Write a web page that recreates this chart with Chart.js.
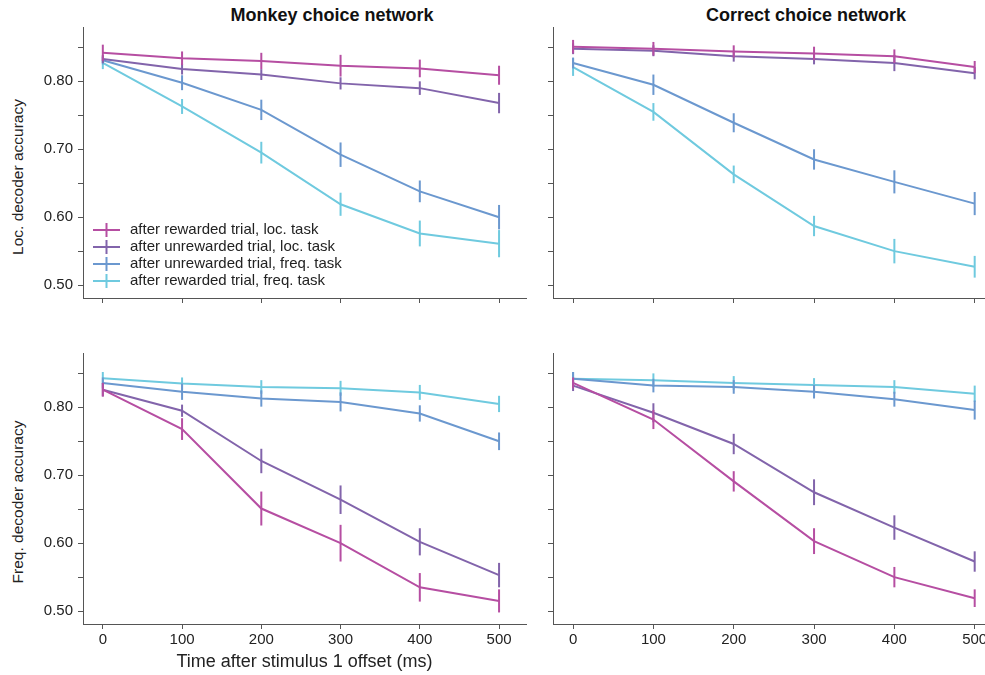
<!DOCTYPE html>
<html>
<head>
<meta charset="utf-8">
<script src="https://cdn.jsdelivr.net/npm/chart.js@4.4.1/dist/chart.umd.min.js"></script>
<style>
  body { margin: 0; background: #fff; width: 985px; height: 675px; overflow: hidden; position: relative;
         font-family: "Liberation Sans", Arial, sans-serif; }
  canvas { position: absolute; }
  .ptitle { position: absolute; top: 5px; font-weight: bold; font-size: 18px; color: #111;
            white-space: nowrap; transform: translateX(-50%); }
  .ytitle { position: absolute; font-size: 15.5px; color: #222; white-space: nowrap;
            transform: translate(-50%, -50%) rotate(-90deg); }
</style>
</head>
<body>
<div class="ptitle" style="left:332px">Monkey choice network</div>
<div class="ptitle" style="left:806px">Correct choice network</div>
<div class="ytitle" style="left:18px;top:177px">Loc. decoder accuracy</div>
<div class="ytitle" style="left:18px;top:502px">Freq. decoder accuracy</div>

<canvas id="tl" width="540" height="330" style="left:0;top:0"></canvas>
<canvas id="tr" width="480" height="330" style="left:530px;top:0"></canvas>
<canvas id="bl" width="540" height="345" style="left:0;top:330px"></canvas>
<canvas id="br" width="480" height="345" style="left:530px;top:330px"></canvas>

<script>
// time points (ms) and tick values
const timePoints = [0, 100, 200, 300, 400, 500];
const xTicks = [0, 100, 200, 300, 400, 500];
const yTicks = [0.50, 0.55, 0.60, 0.65, 0.70, 0.75, 0.80, 0.85];
const yLabelled = [0.50, 0.60, 0.70, 0.80];

const seriesNames = [
  "after rewarded trial, loc. task",
  "after unrewarded trial, loc. task",
  "after unrewarded trial, freq. task",
  "after rewarded trial, freq. task"
];

// Monkey choice network, location decoder
const monkeyLocMeans = [
  [0.842, 0.834, 0.830, 0.823, 0.819, 0.809],
  [0.833, 0.818, 0.810, 0.797, 0.790, 0.768],
  [0.831, 0.798, 0.758, 0.692, 0.638, 0.600],
  [0.827, 0.763, 0.695, 0.619, 0.576, 0.561]
];
const monkeyLocErrs = [
  [0.012, 0.010, 0.012, 0.016, 0.013, 0.014],
  [0.006, 0.008, 0.008, 0.009, 0.010, 0.015],
  [0.006, 0.011, 0.015, 0.018, 0.016, 0.018],
  [0.009, 0.011, 0.016, 0.017, 0.019, 0.020]
];

// Correct choice network, location decoder
const correctLocMeans = [
  [0.851, 0.848, 0.844, 0.841, 0.837, 0.821],
  [0.848, 0.845, 0.837, 0.833, 0.827, 0.812],
  [0.827, 0.795, 0.739, 0.685, 0.652, 0.620],
  [0.821, 0.755, 0.663, 0.587, 0.550, 0.527]
];
const correctLocErrs = [
  [0.010, 0.010, 0.009, 0.010, 0.010, 0.009],
  [0.008, 0.008, 0.008, 0.008, 0.012, 0.009],
  [0.008, 0.015, 0.014, 0.015, 0.017, 0.017],
  [0.013, 0.013, 0.013, 0.015, 0.018, 0.016]
];

// Monkey choice network, frequency decoder
const monkeyFreqMeans = [
  [0.826, 0.768, 0.651, 0.600, 0.535, 0.515],
  [0.826, 0.795, 0.721, 0.664, 0.602, 0.553],
  [0.836, 0.823, 0.813, 0.808, 0.791, 0.750],
  [0.843, 0.835, 0.830, 0.828, 0.822, 0.805]
];
const monkeyFreqErrs = [
  [0.010, 0.016, 0.025, 0.027, 0.021, 0.017],
  [0.010, 0.009, 0.018, 0.021, 0.020, 0.018],
  [0.008, 0.012, 0.012, 0.014, 0.012, 0.013],
  [0.009, 0.009, 0.010, 0.011, 0.011, 0.012]
];

// Correct choice network, frequency decoder
const correctFreqMeans = [
  [0.836, 0.782, 0.691, 0.603, 0.550, 0.519],
  [0.832, 0.792, 0.746, 0.675, 0.623, 0.573],
  [0.842, 0.832, 0.830, 0.823, 0.812, 0.796],
  [0.842, 0.840, 0.836, 0.833, 0.830, 0.820]
];
const correctFreqErrs = [
  [0.008, 0.014, 0.015, 0.019, 0.015, 0.013],
  [0.008, 0.014, 0.015, 0.019, 0.018, 0.015],
  [0.010, 0.010, 0.010, 0.010, 0.011, 0.014],
  [0.010, 0.010, 0.010, 0.010, 0.010, 0.012]
];

const colors = ["#b64ea2", "#8264ab", "#6b98cf", "#6fcadf"];
const axisColor = "#555";
const textColor = "#222";

Chart.defaults.font.family = '"Liberation Sans", Arial, sans-serif';
Chart.defaults.color = textColor;

// vertical error bars drawn right after each line
const errorBars = {
  id: "errorBars",
  afterDatasetDraw(chart, args) {
    const ds = chart.data.datasets[args.index];
    const yScale = chart.scales.y;
    const ctx = chart.ctx;
    ctx.save();
    ctx.strokeStyle = ds.borderColor;
    ctx.lineWidth = 2;
    args.meta.data.forEach((pt, i) => {
      const v = ds.data[i].y, e = ds.errors[i];
      ctx.beginPath();
      ctx.moveTo(pt.x, yScale.getPixelForValue(v - e));
      ctx.lineTo(pt.x, yScale.getPixelForValue(v + e));
      ctx.stroke();
    });
    ctx.restore();
  }
};

// legend with error-bar markers, only used in the top-left panel
const barLegend = {
  id: "barLegend",
  afterDraw(chart) {
    const ctx = chart.ctx;
    ctx.save();
    ctx.font = '15px "Liberation Sans", Arial, sans-serif';
    ctx.textBaseline = "middle";
    seriesNames.forEach((name, i) => {
      const y = 230 + i * 17;
      ctx.strokeStyle = colors[i];
      ctx.lineWidth = 2;
      ctx.beginPath();
      ctx.moveTo(93, y); ctx.lineTo(120, y);
      ctx.moveTo(106.5, y - 7); ctx.lineTo(106.5, y + 7);
      ctx.stroke();
      ctx.fillStyle = textColor;
      ctx.fillText(name, 130, y);
    });
    ctx.restore();
  }
};

function makePanel(id, means, errs, cfg) {
  const datasets = means.map((m, i) => ({
    label: seriesNames[i],
    data: timePoints.map((t, j) => ({ x: t, y: m[j] })),
    errors: errs[i],
    borderColor: colors[i],
    backgroundColor: colors[i],
    borderWidth: 2,
    pointRadius: 0,
    tension: 0,
    fill: false
  }));

  const plugins = [errorBars];
  if (cfg.legend) plugins.push(barLegend);

  return new Chart(document.getElementById(id), {
    type: "line",
    data: { datasets },
    plugins,
    options: {
      responsive: false,
      animation: false,
      devicePixelRatio: 1,
      layout: { padding: { top: cfg.top, right: cfg.right, left: 0, bottom: 0 } },
      plugins: { legend: { display: false }, tooltip: { enabled: false } },
      scales: {
        x: {
          type: "linear",
          min: -25,
          max: 534,
          afterBuildTicks: s => { s.ticks = xTicks.map(v => ({ value: v })); },
          afterFit: s => { s.height = cfg.xHeight; },
          grid: { display: true, drawOnChartArea: false, drawTicks: true, tickLength: 5, color: axisColor },
          border: { display: true, color: axisColor, width: 1 },
          ticks: {
            display: cfg.xLabels, autoSkip: false, maxRotation: 0, padding: 2,
            font: { size: 15 }, color: textColor
          },
          title: {
            display: !!cfg.xTitle, text: cfg.xTitle || "",
            font: { size: 18 }, color: textColor, padding: { top: 0, bottom: 2 }
          }
        },
        y: {
          min: 0.481,
          max: 0.880,
          afterBuildTicks: s => { s.ticks = yTicks.map(v => ({ value: v })); },
          afterFit: s => { s.width = cfg.yWidth; },
          grid: { display: true, drawOnChartArea: false, drawTicks: true, tickLength: 5, color: axisColor },
          border: { display: true, color: axisColor, width: 1 },
          ticks: {
            autoSkip: false, padding: 5, font: { size: 15 }, color: textColor,
            callback: v => (cfg.yLabels && yLabelled.some(l => Math.abs(l - v) < 1e-6)) ? v.toFixed(2) : ""
          }
        }
      }
    }
  });
}

makePanel("tl", monkeyLocMeans, monkeyLocErrs,
  { top: 27, right: 14, xHeight: 32, yWidth: 83, xLabels: false, yLabels: true, legend: true });
makePanel("tr", correctLocMeans, correctLocErrs,
  { top: 27, right: 8, xHeight: 32, yWidth: 23, xLabels: false, yLabels: false });
makePanel("bl", monkeyFreqMeans, monkeyFreqErrs,
  { top: 23, right: 14, xHeight: 51, yWidth: 83, xLabels: true, yLabels: true,
    xTitle: "Time after stimulus 1 offset (ms)" });
makePanel("br", correctFreqMeans, correctFreqErrs,
  { top: 23, right: 8, xHeight: 51, yWidth: 23, xLabels: true, yLabels: false });
</script>
</body>
</html>
